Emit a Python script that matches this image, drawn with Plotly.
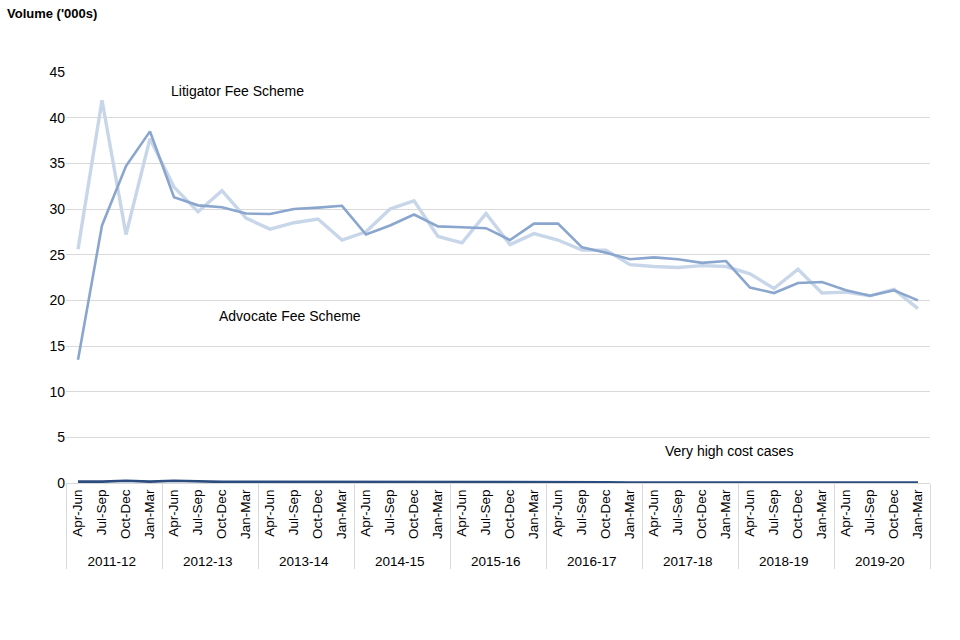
import plotly.graph_objects as go

years = ["2011-12", "2012-13", "2013-14", "2014-15", "2015-16",
         "2016-17", "2017-18", "2018-19", "2019-20"]
quarters = ["Apr-Jun", "Jul-Sep", "Oct-Dec", "Jan-Mar"]

litigator = [25.6, 41.9, 27.2, 37.7, 32.4, 29.7, 32.0, 29.0,
             27.8, 28.5, 28.9, 26.6, 27.5, 30.0, 30.9, 27.0,
             26.3, 29.5, 26.1, 27.3, 26.6, 25.5, 25.5, 23.9,
             23.7, 23.6, 23.8, 23.7, 22.9, 21.3, 23.4, 20.8,
             20.9, 20.5, 21.2, 19.1]
advocate = [13.5, 28.2, 34.7, 38.5, 31.3, 30.4, 30.2, 29.5,
            29.45, 30.0, 30.15, 30.35, 27.2, 28.2, 29.4, 28.1,
            28.0, 27.9, 26.6, 28.4, 28.4, 25.8, 25.2, 24.5,
            24.7, 24.5, 24.1, 24.3, 21.4, 20.8, 21.9, 22.0,
            21.1, 20.5, 21.1, 20.0]
vhcc = [0.15, 0.15, 0.25, 0.15, 0.25, 0.15, 0.12, 0.12,
        0.12, 0.12, 0.12, 0.12, 0.12, 0.12, 0.12, 0.1,
        0.1, 0.1, 0.1, 0.15, 0.08, 0.08, 0.08, 0.06,
        0.06, 0.06, 0.06, 0.06, 0.06, 0.05, 0.05, 0.05,
        0.05, 0.05, 0.05, 0.05]

x_outer = [y for y in years for _ in quarters]
x_inner = [q for _ in years for q in quarters]
x = [x_outer, x_inner]

fig = go.Figure()
fig.add_trace(go.Scatter(x=x, y=litigator, mode="lines", name="Litigator Fee Scheme",
                         line=dict(color="#C8D6EA", width=3.4)))
fig.add_trace(go.Scatter(x=x, y=advocate, mode="lines", name="Advocate Fee Scheme",
                         line=dict(color="#8AA6CE", width=2.6)))
fig.add_trace(go.Scatter(x=x, y=vhcc, mode="lines", name="Very high cost cases",
                         line=dict(color="#2B4C7E", width=2.6)))

font = "Liberation Sans, Arial, sans-serif"
fig.update_layout(
    width=960, height=640,
    margin=dict(l=66, r=30, t=72, b=157),
    paper_bgcolor="white", plot_bgcolor="white",
    showlegend=False,
    font=dict(family=font, size=13, color="#000000"),
    yaxis=dict(range=[0, 45], dtick=5, showgrid=True, gridcolor="#D9D9D9",
               gridwidth=1, zeroline=False, showline=False,
               tickfont=dict(size=14), ticks="", ticklen=0,
               automargin=False),
    xaxis=dict(type="multicategory", tickangle=-90, showgrid=False,
               range=[-0.5, 35.5],
               showline=True, linecolor="#D9D9D9", linewidth=1,
               showdividers=True, dividercolor="#D9D9D9", dividerwidth=1,
               tickfont=dict(size=13.5), automargin=False),
    annotations=[
        dict(text="<b>Volume ('000s)</b>", xref="paper", yref="paper", x=-0.071, y=1.143,
             xanchor="left", yanchor="middle", showarrow=False,
             font=dict(size=13, family=font, color="#000000")),
        dict(text="Litigator Fee Scheme", xref="paper", yref="paper", x=0.198, y=0.954,
             xanchor="center", yanchor="middle", showarrow=False, font=dict(size=14)),
        dict(text="Advocate Fee Scheme", xref="paper", yref="paper", x=0.259, y=0.406,
             xanchor="center", yanchor="middle", showarrow=False, font=dict(size=14)),
        dict(text="Very high cost cases", xref="paper", yref="paper", x=0.767, y=0.078,
             xanchor="center", yanchor="middle", showarrow=False, font=dict(size=14)),
    ],
)
fig.write_html("out.html", config={"displayModeBar": False},
               post_script="document.body.style.margin='0';document.body.style.overflow='hidden';")
